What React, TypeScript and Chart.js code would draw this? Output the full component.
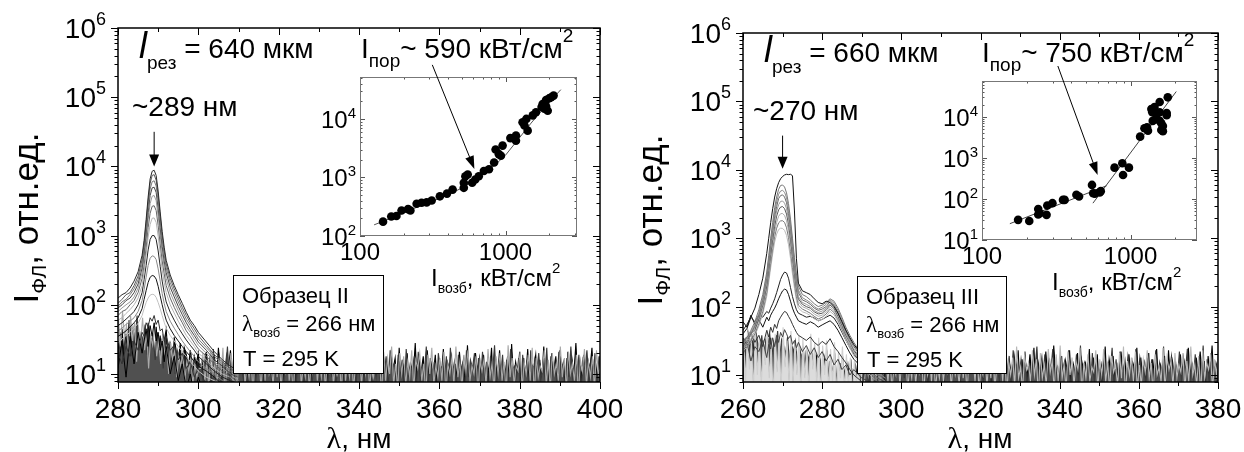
import React, { useEffect, useRef } from "react";
import { Chart, registerables } from "chart.js";

Chart.register(...registerables);

// ================= DATA: Образец II (left) =================
const wlPeakII = [280, 281, 282, 283, 284, 285, 286, 286.5, 287, 287.5, 288, 288.5, 289, 289.5, 290, 290.5, 291, 291.5, 292, 293, 294, 295, 296, 297, 298, 299, 300, 302, 304, 306, 308, 310];
const specII_1 = [125, 140, 150, 175, 220, 300, 520, 850, 1700, 3600, 6600, 8500, 8800, 7400, 4400, 2200, 1150, 680, 440, 270, 190, 140, 105, 78, 60, 50, 40, 29, 21, 16, 13, 11];
const specII_2 = [105, 120, 140, 150, 190, 260, 450, 760, 1500, 3100, 5700, 7400, 7600, 6300, 3800, 1900, 1000, 600, 390, 240, 170, 125, 92, 70, 55, 45, 36, 26, 19, 15, 12, 10];
const specII_3 = [95, 110, 120, 140, 170, 230, 390, 650, 1250, 2600, 4700, 6000, 6200, 5200, 3100, 1600, 850, 520, 340, 210, 150, 110, 82, 62, 50, 40, 32, 24, 18, 14, 11, 9];
const specII_4 = [90, 100, 115, 125, 150, 200, 340, 560, 1050, 2150, 3800, 4900, 5000, 4200, 2500, 1300, 700, 430, 290, 180, 130, 95, 72, 55, 44, 36, 29, 22, 16, 13, 10, 9];
const specII_5 = [80, 90, 100, 110, 130, 175, 290, 470, 870, 1700, 2900, 3700, 3800, 3200, 1900, 1000, 560, 350, 240, 150, 110, 82, 62, 48, 40, 32, 26, 20, 15, 12, 10, 8];
const specII_6 = [70, 80, 85, 100, 115, 150, 240, 380, 680, 1300, 2100, 2650, 2700, 2300, 1400, 760, 430, 280, 190, 125, 92, 70, 55, 42, 35, 28, 23, 18, 14, 11, 9, 8];
const specII_7 = [60, 65, 75, 85, 100, 125, 190, 300, 520, 950, 1450, 1780, 1800, 1550, 980, 550, 320, 210, 150, 100, 76, 58, 46, 36, 30, 25, 20, 16, 12, 10, 9, 7];
const specII_8 = [50, 55, 62, 70, 80, 100, 150, 230, 370, 620, 880, 1000, 1000, 880, 600, 360, 220, 150, 110, 78, 60, 47, 38, 31, 26, 22, 18, 14, 11, 9, 8, 7];
const specII_9 = [42, 46, 52, 58, 65, 80, 115, 165, 250, 370, 470, 510, 500, 450, 330, 220, 145, 105, 80, 58, 46, 37, 30, 25, 21, 18, 15, 12, 10, 8, 7, 6];
const specII_10 = [35, 38, 42, 48, 55, 65, 88, 120, 160, 210, 250, 265, 260, 235, 185, 135, 100, 76, 60, 45, 36, 30, 25, 21, 18, 15, 13, 11, 9, 7, 6, 6];
const specII_11 = [28, 32, 36, 40, 46, 54, 70, 88, 108, 125, 138, 142, 140, 128, 108, 88, 70, 56, 46, 36, 30, 25, 21, 18, 15, 13, 11, 9, 8, 7, 6, 5];
const specII_12 = [20, 14, 25, 18, 30, 22, 40, 35, 55, 48, 65, 58, 70, 52, 60, 42, 45, 30, 35, 22, 26, 16, 20, 12, 15, 9, 12, 7, 9, 5, 7, 4];
const specII_13 = [12, 30, 9, 35, 14, 40, 20, 30, 45, 25, 50, 35, 55, 30, 40, 22, 30, 15, 25, 10, 18, 8, 14, 6, 10, 5, 9, 4, 7, 5, 6, 4];

const noiseII_step = 0.5;
const noiseII_startA = 280;
const noiseII_startB = 280.25;
const noiseII_startC = 280.125;
const noiseII_a = [30, 12, 45, 18, 38, 9, 50, 22, 35, 14, 42, 10, 28, 40, 16, 55, 25, 33, 11, 48, 20, 36, 13, 30, 44, 17, 26, 9, 34, 21, 15, 28, 8, 24, 19, 12, 22, 7, 18, 14, 20,
  9, 17, 6, 21, 11, 15, 5, 19, 8, 24, 10, 14, 6, 18, 12, 22, 7, 13, 9, 20,
  5, 16, 11, 25, 8, 14, 6, 19, 10, 17, 5, 23, 9, 13, 7, 18, 12, 26, 6, 15,
  10, 20, 5, 14, 9, 22, 7, 16, 11, 19, 6, 13, 8, 24, 10, 15, 5, 18, 12, 21,
  7, 14, 9, 27, 6, 17, 11, 13, 5, 20, 8, 16, 10, 23, 6, 12, 9, 19, 7, 15,
  11, 22, 6, 18, 8, 14, 5, 25, 10, 16, 7, 21, 9, 13, 6, 19, 12, 17, 5, 24,
  8, 15, 10, 20, 6, 13, 9, 28, 7, 16, 11, 18, 5, 22, 8, 14, 10, 19, 6, 17,
  9, 23, 7, 15, 12, 18, 5, 14, 8, 21, 10, 16, 6, 26, 9, 13, 7, 20, 11, 17,
  6, 19, 8, 14, 10, 24, 5, 16, 9, 22, 7, 13, 11, 18, 6, 27, 8, 15, 10, 21,
  5, 17, 9, 23, 7, 14, 12, 19, 6, 16, 8, 25, 10, 13, 5, 20, 9, 18, 7, 22,
  11, 15, 6, 21, 8, 17, 10, 28, 7, 14, 9, 19, 5, 16, 12, 24, 6, 13, 8, 18];
const noiseII_b = [20, 40, 15, 32, 24, 60, 18, 45, 28, 70, 22, 38, 30, 52, 19, 44, 26, 35, 16, 40, 23, 30, 12, 34, 19, 27, 14, 25, 10, 22, 17, 13, 20, 9, 16, 11, 18, 8, 15, 10, 13,
  14, 7, 20, 10, 16, 6, 23, 9, 13, 18, 5, 15, 11, 25, 8, 17, 6, 14, 10, 21,
  13, 8, 19, 6, 24, 11, 15, 7, 18, 9, 22, 5, 14, 12, 20, 7, 16, 10, 27, 8,
  15, 6, 21, 11, 14, 8, 19, 5, 17, 12, 23, 7, 13, 9, 20, 6, 16, 11, 18, 8,
  22, 10, 14, 6, 18, 9, 25, 7, 13, 11, 16, 5, 21, 8, 15, 12, 19, 6, 24, 9,
  14, 7, 17, 11, 20, 5, 13, 9, 26, 8, 15, 10, 18, 6, 22, 12, 14, 7, 19, 10,
  16, 5, 23, 9, 14, 11, 18, 6, 21, 8, 13, 10, 25, 7, 17, 9, 15, 5, 20, 12,
  13, 8, 18, 6, 24, 10, 15, 7, 19, 11, 14, 5, 22, 9, 16, 12, 20, 6, 17, 8,
  21, 9, 15, 5, 18, 11, 26, 7, 14, 10, 19, 6, 16, 8, 23, 12, 13, 9, 17, 5,
  19, 10, 14, 7, 22, 6, 16, 11, 20, 8, 13, 9, 24, 5, 18, 10, 15, 7, 21, 11,
  14, 6, 17, 9, 25, 8, 13, 10, 19, 5, 16, 12, 22, 7, 15, 9, 20, 6, 18, 10];
const noiseII_c = [60, 25, 80, 35, 50, 20, 70, 30, 55, 15, 45, 28, 65, 22, 40, 12, 35, 26, 48, 18, 30, 14, 38, 20, 25, 10, 28, 16, 22, 9, 18, 13, 20, 8, 15, 11, 17, 7, 14, 9, 12,
  12, 19, 8, 15, 6, 22, 10, 14, 7, 17, 9, 24, 5, 13, 11, 20, 8, 16, 6, 18,
  10, 23, 7, 14, 9, 17, 5, 20, 12, 15, 6, 19, 8, 26, 10, 13, 7, 21, 9, 16,
  6, 18, 11, 22, 8, 14, 5, 17, 10, 25, 7, 13, 9, 19, 6, 16, 12, 21, 8, 15,
  9, 20, 6, 16, 11, 23, 7, 14, 10, 18, 5, 27, 8, 15, 9, 21, 6, 13, 11, 17,
  7, 16, 10, 24, 6, 13, 9, 19, 11, 15, 5, 21, 8, 17, 10, 25, 7, 14, 6, 20,
  10, 18, 7, 15, 9, 22, 6, 16, 12, 20, 8, 14, 5, 19, 10, 24, 7, 13, 9, 17,
  8, 21, 5, 14, 10, 17, 7, 25, 9, 15, 6, 19, 11, 22, 8, 13, 10, 18, 5, 16,
  11, 16, 7, 23, 9, 14, 6, 18, 10, 20, 8, 15, 5, 26, 9, 17, 7, 13, 11, 21,
  6, 15, 10, 19, 8, 24, 5, 17, 9, 13, 11, 22, 7, 16, 6, 20, 10, 14, 8, 25,
  9, 17, 6, 21, 10, 14, 8, 19, 5, 16, 11, 23, 7, 15, 9, 18, 6, 22, 10, 13];

// inset II: I_возб (кВт/см²) vs I (отн.ед.)
const excII = [144, 164, 178, 193, 214, 222, 245, 265, 287, 311, 354, 396, 433, 517, 517, 530, 550, 590, 620, 655, 710, 770, 835, 855, 900, 955, 930, 1080, 1180, 1180, 1310, 1350, 1420, 1390, 1540, 1620, 1770, 1800, 1850, 1900, 2000, 2060, 1900, 2140, 1950];
const lumII = [176, 215, 220, 273, 288, 273, 355, 370, 375, 405, 476, 530, 620, 810, 665, 1050, 1125, 810, 925, 1050, 1290, 1380, 1800, 3000, 2500, 3500, 2350, 4700, 4250, 5200, 8750, 7700, 6300, 10000, 11500, 13000, 16000, 18000, 15000, 21000, 22500, 23500, 16500, 25000, 13800];
const fitII_exc = [125, 170, 230, 300, 400, 500, 600, 700, 850, 1000, 1250, 1500, 1800, 2100, 2400];
const fitII_lum = [155, 210, 290, 375, 500, 660, 860, 1120, 1650, 2400, 4800, 8500, 14500, 22000, 31600];

// ================= DATA: Образец III (right) =================
const wlPeakIII = [260, 261, 262, 263, 264, 265, 266, 266.5, 267, 267.5, 268, 268.5, 269, 269.5, 270, 270.5, 271, 271.5, 272, 272.5, 273, 273.5, 274, 275, 276, 277, 278, 279, 280, 281, 282, 283, 284, 285, 286, 287, 288, 290, 292, 294, 296];
const specIII_1 = [40, 48, 70, 95, 150, 260, 600, 1000, 1700, 2700, 4000, 5300, 6500, 7400, 8000, 8400, 8600, 8500, 8600, 8200, 2500, 500, 220, 170, 160, 150, 130, 115, 110, 120, 115, 100, 80, 60, 45, 35, 28, 20, 15, 12, 10];
const specIII_2 = [30, 35, 45, 60, 90, 150, 320, 560, 1000, 1700, 2800, 4000, 5200, 5900, 6000, 5600, 4600, 3200, 1900, 1000, 520, 300, 200, 150, 140, 125, 110, 100, 105, 115, 130, 120, 95, 70, 50, 38, 30, 20, 15, 12, 10];
const specIII_3 = [28, 33, 42, 55, 80, 135, 290, 500, 880, 1500, 2400, 3400, 4400, 4900, 5000, 4700, 3900, 2700, 1600, 870, 450, 260, 175, 135, 125, 115, 100, 92, 98, 108, 125, 112, 88, 65, 46, 35, 27, 19, 14, 11, 9];
const specIII_4 = [32, 36, 40, 52, 75, 125, 260, 440, 780, 1300, 2100, 2900, 3800, 4200, 4300, 4000, 3300, 2300, 1400, 760, 400, 235, 160, 125, 118, 108, 95, 88, 92, 100, 118, 105, 82, 60, 43, 33, 26, 18, 13, 10, 9];
const specIII_5 = [25, 30, 38, 50, 70, 115, 230, 390, 680, 1120, 1800, 2500, 3100, 3450, 3500, 3250, 2700, 1900, 1150, 640, 340, 200, 140, 115, 108, 100, 88, 82, 86, 95, 110, 98, 76, 56, 40, 31, 24, 17, 12, 10, 8];
const specIII_6 = [34, 30, 40, 46, 66, 105, 200, 340, 580, 950, 1500, 2100, 2600, 2850, 2900, 2700, 2250, 1600, 970, 540, 300, 180, 130, 108, 100, 95, 84, 78, 80, 90, 105, 94, 72, 53, 38, 30, 23, 16, 12, 9, 8];
const specIII_7 = [24, 28, 34, 44, 62, 95, 180, 300, 500, 820, 1250, 1700, 2100, 2280, 2300, 2150, 1800, 1300, 800, 450, 260, 160, 118, 100, 94, 88, 78, 72, 75, 84, 98, 88, 68, 50, 36, 28, 22, 15, 11, 9, 7];
const specIII_8 = [27, 25, 32, 40, 56, 85, 160, 260, 430, 700, 1050, 1400, 1680, 1790, 1800, 1700, 1420, 1020, 640, 370, 220, 140, 105, 92, 86, 80, 72, 66, 70, 78, 92, 82, 64, 47, 34, 27, 21, 15, 11, 8, 7];
const specIII_9 = [22, 26, 30, 38, 52, 78, 140, 225, 370, 590, 880, 1150, 1340, 1400, 1390, 1300, 1100, 800, 510, 300, 185, 122, 95, 84, 80, 74, 66, 62, 65, 72, 85, 76, 60, 44, 32, 25, 19, 14, 10, 8, 7];
const specIII_10 = [45, 55, 70, 60, 75, 70, 85, 80, 95, 110, 130, 160, 200, 250, 290, 320, 310, 260, 190, 140, 110, 90, 80, 75, 70, 72, 68, 62, 65, 70, 75, 68, 55, 42, 32, 25, 20, 15, 11, 9, 7];
const specIII_11 = [60, 50, 75, 55, 65, 50, 70, 62, 75, 85, 95, 110, 130, 150, 170, 180, 175, 150, 120, 95, 80, 70, 62, 58, 55, 60, 56, 50, 54, 58, 62, 55, 45, 35, 27, 21, 17, 13, 10, 8, 6];
const specIII_12 = [35, 28, 42, 30, 38, 26, 45, 36, 50, 42, 55, 48, 62, 70, 78, 85, 82, 72, 64, 55, 48, 42, 38, 35, 32, 36, 30, 27, 31, 28, 34, 26, 22, 18, 15, 12, 10, 8, 7, 6, 5];
const specIII_13 = [20, 30, 16, 26, 22, 32, 18, 28, 24, 35, 26, 38, 30, 42, 36, 46, 40, 34, 38, 28, 32, 25, 30, 22, 27, 20, 25, 18, 22, 16, 20, 14, 17, 12, 14, 10, 12, 9, 8, 7, 6];

const noiseIII_step = 0.5;
const noiseIII_startA = 260;
const noiseIII_startB = 260.25;
const noiseIII_startC1 = 260.125;
const noiseIII_startC2 = 290.625;
const noiseIII_a = [18, 30, 12, 26, 16, 34, 10, 22, 28, 14, 30, 12, 24, 18, 35, 15, 26, 10, 22, 17, 28, 13, 20, 9, 24, 16, 11, 22, 8, 19, 14, 10, 23, 13, 7, 18, 11, 20, 9, 15, 6, 18, 12, 9, 16, 6, 13, 10, 8, 15, 5, 12, 9, 14, 7, 11, 5, 13, 8, 10, 6,
  16, 7, 21, 10, 14, 5, 19, 9, 24, 6, 15, 11, 18, 8, 22, 6, 13, 10, 26, 7,
  17, 9, 14, 5, 20, 11, 16, 7, 23, 8, 13, 10, 19, 6, 25, 9, 15, 12, 18, 5,
  21, 8, 14, 10, 17, 6, 28, 9, 15, 7, 20, 11, 13, 5, 24, 8, 16, 10, 19, 6,
  15, 9, 22, 7, 14, 12, 18, 5, 26, 8, 16, 10, 21, 6, 13, 9, 19, 11, 23, 7,
  17, 6, 14, 10, 20, 8, 25, 5, 16, 11, 18, 7, 22, 9, 15, 6, 27, 10, 13, 8,
  19, 5, 16, 11, 23, 7, 14, 9, 21, 6, 17, 12, 15, 8, 24, 5, 18, 10, 20, 7,
  14, 9, 26, 6, 17, 11, 19, 8, 13, 5, 22, 10, 16, 7, 20, 9, 15, 12, 25, 6,
  18, 8, 15, 10, 21, 5, 17, 9, 24, 7, 14, 11, 19, 6, 23, 8, 16, 10, 13, 5,
  20, 9, 15, 7, 25, 10, 14, 6, 18, 11, 22, 8, 16, 5, 19, 9, 27, 7, 15, 12];
const noiseIII_b = [30, 20, 42, 26, 35, 18, 45, 28, 22, 38, 16, 32, 25, 40, 19, 30, 23, 44, 17, 33, 27, 20, 36, 15, 28, 22, 31, 13, 26, 18, 24, 11, 21, 16, 27, 10, 19, 14, 23, 9, 17, 12, 20, 8, 15, 11, 18, 7, 13, 10, 16, 6, 14, 9, 17, 7, 12, 10, 15, 6, 11,
  8, 19, 6, 14, 11, 23, 7, 16, 9, 20, 5, 15, 12, 25, 8, 13, 10, 18, 6, 22,
  9, 16, 7, 21, 11, 14, 5, 19, 10, 26, 8, 15, 6, 18, 12, 23, 7, 13, 9, 20,
  6, 17, 10, 24, 8, 14, 11, 19, 5, 16, 9, 22, 7, 15, 12, 20, 6, 27, 10, 14,
  7, 18, 9, 13, 5, 21, 11, 16, 8, 25, 6, 15, 10, 19, 7, 23, 12, 14, 9, 17,
  10, 22, 6, 15, 8, 19, 12, 26, 7, 14, 9, 20, 5, 17, 11, 24, 8, 13, 6, 18,
  12, 16, 8, 23, 6, 14, 10, 20, 7, 27, 9, 15, 11, 18, 5, 21, 8, 16, 10, 13,
  6, 20, 9, 15, 11, 25, 7, 17, 5, 22, 10, 14, 8, 19, 12, 16, 6, 24, 9, 18,
  11, 14, 7, 21, 9, 17, 5, 23, 10, 15, 8, 26, 6, 13, 12, 19, 7, 16, 9, 22,
  8, 18, 11, 24, 6, 15, 9, 20, 7, 13, 10, 27, 5, 17, 8, 21, 12, 14, 6, 19];
// light-grey spectra under the peak (260–290 нм)
const noiseIII_c1 = [35, 8, 42, 12, 30, 6, 48, 10, 38, 7, 33, 14, 45, 9, 28, 5, 40, 11, 36, 6, 50, 13, 32, 8, 44, 7, 29, 10, 38, 5, 34, 9, 26, 6, 40, 12, 30, 7, 35, 5, 27, 10, 32, 6, 24, 8, 30, 5, 22, 9, 26, 6, 20, 7, 18, 5, 16, 8, 14, 6, 12];
// light-grey noise (290.5–380 нм)
const noiseIII_c2 = [7, 17, 10, 22, 6, 14, 9, 19, 5, 24, 11, 15, 8, 20, 6, 13, 10, 26, 7, 16,
  12, 19, 6, 14, 9, 23, 7, 17, 11, 21, 5, 15, 10, 18, 8, 25, 6, 13, 9, 20,
  8, 15, 11, 22, 6, 18, 10, 14, 7, 27, 9, 16, 5, 21, 12, 17, 8, 24, 6, 13,
  10, 20, 7, 16, 9, 25, 6, 14, 11, 19, 8, 22, 5, 15, 10, 18, 7, 26, 9, 13,
  6, 19, 12, 15, 8, 23, 10, 17, 5, 21, 9, 14, 7, 24, 11, 16, 6, 20, 8, 27,
  9, 14, 6, 22, 10, 18, 7, 16, 12, 25, 5, 15, 9, 20, 8, 13, 11, 23, 6, 17,
  10, 24, 8, 15, 6, 19, 11, 14, 7, 21, 9, 26, 5, 16, 10, 18, 8, 22, 6, 14,
  7, 17, 11, 23, 9, 15, 5, 20, 10, 13, 8, 25, 6, 18, 12, 16, 7, 21, 9, 14,
  11, 21, 6, 16, 8, 26, 10, 14, 7, 19, 5, 23, 9, 15, 12, 20, 6, 17, 10, 24];

// inset III
const excIII = [175, 208, 239, 245, 239, 272, 275, 298, 351, 360, 432, 450, 550, 560, 575, 620, 630, 780, 880, 890, 975, 1160, 1240, 1290, 1310, 1380, 1400, 1410, 1450, 1490, 1570, 1570, 1570, 1610, 1650, 1650, 1750, 1750, 1780, 1610];
const lumIII = [31, 29, 57, 45, 42, 41, 69, 79, 95, 95, 127, 115, 220, 138, 135, 145, 155, 580, 740, 385, 580, 3300, 5300, 5600, 4600, 15500, 13000, 8000, 17500, 9500, 23000, 13000, 8000, 7000, 6000, 4500, 12500, 11000, 30000, 4800];
const fitIII_low_exc = [154, 690];
const fitIII_low_lum = [25, 210];
const fitIII_high_exc = [558, 2030];
const fitIII_high_lum = [79, 41500];

// tick labels
const xLabelsII = [280, 300, 320, 340, 360, 380, 400];
const xLabelsIII = [260, 280, 300, 320, 340, 360, 380];
const yExpMain = [1, 2, 3, 4, 5, 6];
const insetXLabels = [100, 1000];
const insetYExpII = [2, 3, 4];
const insetYExpIII = [1, 2, 3, 4];

// ================= drawing helpers =================
const SANS = "'Liberation Sans', Arial, Helvetica, sans-serif";
const SERIF = "'Liberation Serif', 'Times New Roman', serif";

type Run = { t: string; size: number; dy?: number; italic?: boolean; serif?: boolean };

function fontOf(r: Run) {
  return `${r.italic ? "italic " : ""}${r.size}px ${r.serif ? SERIF : SANS}`;
}

function drawRuns(ctx: CanvasRenderingContext2D, x: number, y: number, runs: Run[], align: "left" | "center" | "right" = "left") {
  ctx.save();
  ctx.textBaseline = "alphabetic";
  ctx.textAlign = "left";
  ctx.fillStyle = "#000";
  const widths = runs.map((r) => {
    ctx.font = fontOf(r);
    return ctx.measureText(r.t).width;
  });
  const total = widths.reduce((a, b) => a + b, 0);
  let cx = align === "left" ? x : align === "center" ? x - total / 2 : x - total;
  runs.forEach((r, i) => {
    ctx.font = fontOf(r);
    ctx.fillText(r.t, cx, y + (r.dy || 0));
    cx += widths[i];
  });
  ctx.restore();
}

function drawArrow(ctx: CanvasRenderingContext2D, x1: number, y1: number, x2: number, y2: number, head = 12, half = 4.5) {
  const a = Math.atan2(y2 - y1, x2 - x1);
  const c = Math.cos(a), s = Math.sin(a);
  ctx.save();
  ctx.strokeStyle = "#000";
  ctx.fillStyle = "#000";
  ctx.lineWidth = 1;
  ctx.beginPath();
  ctx.moveTo(x1, y1);
  ctx.lineTo(x2 - head * c * 0.7, y2 - head * s * 0.7);
  ctx.stroke();
  ctx.beginPath();
  ctx.moveTo(x2, y2);
  ctx.lineTo(x2 - head * c + half * s, y2 - head * s - half * c);
  ctx.lineTo(x2 - head * c - half * s, y2 - head * s + half * c);
  ctx.closePath();
  ctx.fill();
  ctx.restore();
}

type Box = { left: number; top: number; w: number; h: number };
type Area = { l: number; t: number; r: number; b: number };

function lineDataset(xs: number[], ys: number[], color: string, width = 1) {
  return {
    data: xs.map((x, i) => ({ x, y: ys[i] })),
    showLine: true,
    borderColor: color,
    borderWidth: width,
    pointRadius: 0,
    tension: 0,
    fill: false,
  };
}

function gridDataset(start: number, step: number, ys: number[], color: string, fillColor?: string) {
  return {
    data: ys.map((y, i) => ({ x: start + i * step, y })),
    showLine: true,
    borderColor: color,
    borderWidth: 1.1,
    pointRadius: 0,
    tension: 0,
    fill: fillColor ? "start" : false,
    backgroundColor: fillColor || "transparent",
  };
}

function makeChart(canvas: HTMLCanvasElement, box: Box, area: Area, datasets: any[], xScale: any, yScale: any, plugin: any) {
  const yWidth = area.l - box.left;
  const xHeight = box.top + box.h - area.b;
  return new Chart(canvas, {
    type: "scatter",
    data: { datasets },
    options: {
      responsive: false,
      animation: false,
      devicePixelRatio: 1,
      events: [],
      layout: { padding: { left: 0, top: area.t - box.top, right: box.left + box.w - area.r, bottom: 0 } },
      plugins: { legend: { display: false }, tooltip: { enabled: false }, title: { display: false } },
      scales: {
        x: {
          ...xScale,
          grid: { display: false },
          border: { display: false },
          ticks: { display: false },
          afterFit: (s: any) => { s.height = xHeight; },
        },
        y: {
          ...yScale,
          grid: { display: false },
          border: { display: false },
          ticks: { display: false },
          afterFit: (s: any) => { s.width = yWidth; },
        },
      },
    } as any,
    plugins: [plugin],
  });
}

// ================= main plot decoration =================
type MainSpec = {
  box: Box;
  xMinor: number;
  xLabels: number[];
  arrowX: number;
  arrowFrom: number;
  arrowTo: number;
  annotate: (ctx: CanvasRenderingContext2D) => void;
};

function mainPlugin(spec: MainSpec) {
  return {
    id: "mainDeco",
    afterDraw(chart: any) {
      const ctx: CanvasRenderingContext2D = chart.ctx;
      const xs = chart.scales.x, ys = chart.scales.y;
      const { left, right, top, bottom } = chart.chartArea;
      ctx.save();
      ctx.strokeStyle = "#000";
      ctx.lineWidth = 1;
      ctx.beginPath();
      for (let v = xs.min; v <= xs.max + 1e-6; v += spec.xMinor) {
        const p = Math.round(xs.getPixelForValue(v)) + 0.5;
        const len = spec.xLabels.includes(Math.round(v)) ? 7 : 4;
        ctx.moveTo(p, bottom); ctx.lineTo(p, bottom + len);
        ctx.moveTo(p, top); ctx.lineTo(p, top + len);
      }
      for (let e = 0; e <= 6; e++) {
        for (let m = 1; m <= 9; m++) {
          const v = m * Math.pow(10, e);
          if (v < ys.min || v > ys.max * 1.0001) continue;
          const p = Math.round(ys.getPixelForValue(v)) + 0.5;
          const len = m === 1 ? 7 : 3.5;
          ctx.moveTo(left - len, p); ctx.lineTo(left, p);
          ctx.moveTo(right - len, p); ctx.lineTo(right, p);
        }
      }
      ctx.stroke();
      ctx.lineWidth = 1.5;
      ctx.strokeRect(left, top, right - left, bottom - top);

      spec.xLabels.forEach((v) => {
        drawRuns(ctx, xs.getPixelForValue(v), bottom + 36, [{ t: String(v), size: 28 }], "center");
      });
      yExpMain.forEach((e) => {
        const p = ys.getPixelForValue(Math.pow(10, e));
        drawRuns(ctx, left - 12, p + 10, [{ t: "10", size: 28 }, { t: String(e), size: 18, dy: -13 }], "right");
      });

      drawArrow(ctx, xs.getPixelForValue(spec.arrowX), ys.getPixelForValue(spec.arrowFrom),
        xs.getPixelForValue(spec.arrowX), ys.getPixelForValue(spec.arrowTo), 12, 5);

      ctx.translate(-spec.box.left, -spec.box.top);
      spec.annotate(ctx);
      ctx.restore();
    },
  };
}

function drawYTitle(ctx: CanvasRenderingContext2D, bx: number, cy: number) {
  ctx.save();
  ctx.translate(bx, cy);
  ctx.rotate(-Math.PI / 2);
  drawRuns(ctx, 0, 0, [
    { t: "I", size: 35 },
    { t: "ФЛ", size: 21, dy: 8 },
    { t: ", отн.ед.", size: 35 },
  ], "center");
  ctx.restore();
}

function drawSampleBox(ctx: CanvasRenderingContext2D, x: number, y: number, w: number, h: number, name: string) {
  ctx.save();
  ctx.fillStyle = "#fff";
  ctx.fillRect(x, y, w, h);
  ctx.strokeStyle = "#000";
  ctx.lineWidth = 1;
  ctx.strokeRect(x + 0.5, y + 0.5, w, h);
  ctx.restore();
  drawRuns(ctx, x + 9, y + 28, [{ t: name, size: 22 }]);
  drawRuns(ctx, x + 9, y + 56, [{ t: "λ", size: 23, serif: true }, { t: "возб", size: 13, dy: 6 }, { t: " = 266 нм", size: 22 }]);
  drawRuns(ctx, x + 10, y + 91, [{ t: "T = 295 K", size: 22 }]);
}

function annotateII(ctx: CanvasRenderingContext2D) {
  drawRuns(ctx, 139, 58, [{ t: "l", size: 36, italic: true }, { t: "рез", size: 19, dy: 11 }, { t: " = 640 мкм", size: 28 }]);
  drawRuns(ctx, 361, 58, [{ t: "I", size: 28 }, { t: "пор", size: 19, dy: 9 }, { t: "~ 590 кВт/см", size: 28 }, { t: "2", size: 19, dy: -16 }]);
  drawRuns(ctx, 132, 116, [{ t: "~289 нм", size: 28 }]);
  drawSampleBox(ctx, 233, 275, 150, 98, "Образец II");
  drawYTitle(ctx, 38, 218);
  drawRuns(ctx, 359, 448, [{ t: "λ", size: 30, serif: true }, { t: ", нм", size: 28 }], "center");
}

function annotateIII(ctx: CanvasRenderingContext2D) {
  drawRuns(ctx, 764, 62, [{ t: "l", size: 36, italic: true }, { t: "рез", size: 19, dy: 11 }, { t: " = 660 мкм", size: 28 }]);
  drawRuns(ctx, 982, 62, [{ t: "I", size: 28 }, { t: "пор", size: 19, dy: 9 }, { t: "~ 750 кВт/см", size: 28 }, { t: "2", size: 19, dy: -16 }]);
  drawRuns(ctx, 753, 120, [{ t: "~270 нм", size: 28 }]);
  drawSampleBox(ctx, 857, 276, 149, 97, "Образец III");
  drawYTitle(ctx, 662, 220);
  drawRuns(ctx, 980, 448, [{ t: "λ", size: 30, serif: true }, { t: ", нм", size: 28 }], "center");
}

// ================= inset decoration =================
type InsetSpec = {
  box: Box;
  yExps: number[];
  arrow: [number, number, number, number];
  titleX: number;
  titleY: number;
};

function insetPlugin(spec: InsetSpec) {
  return {
    id: "insetDeco",
    beforeDatasetsDraw(chart: any) {
      const ctx = chart.ctx;
      const { left, right, top, bottom } = chart.chartArea;
      ctx.save();
      ctx.fillStyle = "#fff";
      ctx.fillRect(left, top, right - left, bottom - top);
      ctx.restore();
    },
    afterDraw(chart: any) {
      const ctx: CanvasRenderingContext2D = chart.ctx;
      const xs = chart.scales.x, ys = chart.scales.y;
      const { left, right, top, bottom } = chart.chartArea;
      ctx.save();
      ctx.strokeStyle = "#555";
      ctx.lineWidth = 1;
      ctx.beginPath();
      for (let e = 1; e <= 4; e++) {
        for (let m = 1; m <= 9; m++) {
          const v = m * Math.pow(10, e);
          if (v >= xs.min && v <= xs.max) {
            const p = Math.round(xs.getPixelForValue(v)) + 0.5;
            const len = m === 1 ? 5 : 2.5;
            ctx.moveTo(p, bottom); ctx.lineTo(p, bottom - len);
            ctx.moveTo(p, top); ctx.lineTo(p, top + len);
          }
          if (v >= ys.min && v <= ys.max) {
            const p = Math.round(ys.getPixelForValue(v)) + 0.5;
            const len = m === 1 ? 5 : 2.5;
            ctx.moveTo(left, p); ctx.lineTo(left + len, p);
            ctx.moveTo(right, p); ctx.lineTo(right - len, p);
          }
        }
      }
      ctx.stroke();
      ctx.strokeStyle = "#777";
      ctx.strokeRect(left + 0.5, top + 0.5, right - left - 1, bottom - top - 1);

      insetXLabels.forEach((v) => {
        drawRuns(ctx, xs.getPixelForValue(v), bottom + 24, [{ t: String(v), size: 24 }], "center");
      });
      spec.yExps.forEach((e) => {
        const p = ys.getPixelForValue(Math.pow(10, e));
        drawRuns(ctx, left - 4, p + 9, [{ t: "10", size: 24 }, { t: String(e), size: 15, dy: -10 }], "right");
      });
      const [ax1, ay1, ax2, ay2] = spec.arrow;
      drawArrow(ctx, xs.getPixelForValue(ax1), ys.getPixelForValue(ay1), xs.getPixelForValue(ax2), ys.getPixelForValue(ay2), 13, 4.5);

      ctx.translate(-spec.box.left, -spec.box.top);
      drawRuns(ctx, spec.titleX, spec.titleY, [
        { t: "I", size: 24 },
        { t: "возб", size: 14, dy: 7 },
        { t: ", кВт/см", size: 24 },
        { t: "2", size: 15, dy: -13 },
      ]);
      ctx.restore();
    },
  };
}

// ================= layout =================
const boxMainII: Box = { left: 0, top: 0, w: 622, h: 452 };
const areaMainII: Area = { l: 118, t: 28, r: 600, b: 382 };
const boxMainIII: Box = { left: 622, top: 0, w: 622, h: 452 };
const areaMainIII: Area = { l: 743, t: 33, r: 1218, b: 382 };
const boxInsetII: Box = { left: 290, top: 20, w: 310, h: 290 };
const areaInsetII: Area = { l: 360, t: 77, r: 577, b: 236 };
const boxInsetIII: Box = { left: 912, top: 20, w: 310, h: 290 };
const areaInsetIII: Area = { l: 982, t: 81, r: 1197, b: 240 };

function rel(a: Area, b: Box): Area {
  return { l: a.l - b.left, t: a.t - b.top, r: a.r - b.left, b: a.b - b.top };
}
function relBox(b: Box): Box {
  return { left: 0, top: 0, w: b.w, h: b.h };
}

export default function App() {
  const c1 = useRef<HTMLCanvasElement>(null);
  const c2 = useRef<HTMLCanvasElement>(null);
  const c3 = useRef<HTMLCanvasElement>(null);
  const c4 = useRef<HTMLCanvasElement>(null);

  useEffect(() => {
    const charts: Chart[] = [];

    const peaksII: [number[], string][] = [
      [specII_1, "#2a2a2a"], [specII_2, "#5a5a5a"], [specII_3, "#7a7a7a"], [specII_4, "#444"],
      [specII_5, "#999"], [specII_6, "#666"], [specII_7, "#b5b5b5"], [specII_8, "#222"],
      [specII_9, "#888"], [specII_10, "#111"], [specII_11, "#c0c0c0"], [specII_12, "#333"], [specII_13, "#000"],
    ];
    const dsII = [
      ...peaksII.map(([d, c]) => lineDataset(wlPeakII, d, c)),
      gridDataset(noiseII_startC, noiseII_step, noiseII_c, "#a8a8a8"),
      gridDataset(noiseII_startB, noiseII_step, noiseII_b, "#3a3a3a", "#505050"),
      gridDataset(noiseII_startA, noiseII_step, noiseII_a, "#000", "#202020"),
    ];
    charts.push(makeChart(c1.current!, relBox(boxMainII), rel(areaMainII, boxMainII), dsII,
      { type: "linear", min: 280, max: 400 },
      { type: "logarithmic", min: 7.66, max: 1e6 },
      mainPlugin({ box: boxMainII, xMinor: 10, xLabels: xLabelsII, arrowX: 289, arrowFrom: 31600, arrowTo: 10000, annotate: annotateII })));

    const peaksIII: [number[], string][] = [
      [specIII_1, "#111"], [specIII_2, "#777"], [specIII_3, "#8a8a8a"], [specIII_4, "#666"],
      [specIII_5, "#9a9a9a"], [specIII_6, "#555"], [specIII_7, "#aaa"], [specIII_8, "#777"],
      [specIII_9, "#bbb"], [specIII_10, "#222"], [specIII_11, "#111"], [specIII_12, "#333"], [specIII_13, "#444"],
    ];
    const dsIII = [
      ...peaksIII.map(([d, c]) => lineDataset(wlPeakIII, d, c)),
      gridDataset(noiseIII_startC1, noiseIII_step, noiseIII_c1, "#cfcfcf", "#dcdcdc"),
      gridDataset(noiseIII_startC2, noiseIII_step, noiseIII_c2, "#b8b8b8"),
      gridDataset(noiseIII_startB, noiseIII_step, noiseIII_b, "#3a3a3a", "#505050"),
      gridDataset(noiseIII_startA, noiseIII_step, noiseIII_a, "#000", "#202020"),
    ];
    charts.push(makeChart(c2.current!, relBox(boxMainIII), rel(areaMainIII, boxMainIII), dsIII,
      { type: "linear", min: 260, max: 380 },
      { type: "logarithmic", min: 7.9, max: 1e6 },
      mainPlugin({ box: boxMainIII, xMinor: 10, xLabels: xLabelsIII, arrowX: 270, arrowFrom: 31600, arrowTo: 10400, annotate: annotateIII })));

    const dsInII = [
      { ...lineDataset(excII, lumII, "#000"), showLine: false, pointRadius: 4.3, backgroundColor: "#000", borderWidth: 0 },
      lineDataset(fitII_exc, fitII_lum, "#555"),
    ];
    charts.push(makeChart(c3.current!, relBox(boxInsetII), rel(areaInsetII, boxInsetII), dsInII,
      { type: "logarithmic", min: 100, max: 3100 },
      { type: "logarithmic", min: 100, max: 52000 },
      insetPlugin({ box: boxInsetII, yExps: insetYExpII, arrow: [314, 83800, 611, 1400], titleX: 431, titleY: 286 })));

    const dsInIII = [
      { ...lineDataset(excIII, lumIII, "#000"), showLine: false, pointRadius: 4.3, backgroundColor: "#000", borderWidth: 0 },
      lineDataset(fitIII_low_exc, fitIII_low_lum, "#444"),
      lineDataset(fitIII_high_exc, fitIII_high_lum, "#444"),
    ];
    charts.push(makeChart(c4.current!, relBox(boxInsetIII), rel(areaInsetIII, boxInsetIII), dsInIII,
      { type: "logarithmic", min: 100, max: 2800 },
      { type: "logarithmic", min: 10, max: 75000 },
      insetPlugin({ box: boxInsetIII, yExps: insetYExpIII, arrow: [324, 174000, 600, 385], titleX: 1052, titleY: 290 })));

    return () => charts.forEach((c) => c.destroy());
  }, []);

  const cs = (b: Box) => ({ position: "absolute" as const, left: b.left, top: b.top, width: b.w, height: b.h });
  return (
    <div style={{ position: "absolute", left: 0, top: 0, width: 1244, height: 452, background: "#fff", overflow: "hidden" }}>
      <canvas ref={c1} width={boxMainII.w} height={boxMainII.h} style={cs(boxMainII)} />
      <canvas ref={c2} width={boxMainIII.w} height={boxMainIII.h} style={cs(boxMainIII)} />
      <canvas ref={c3} width={boxInsetII.w} height={boxInsetII.h} style={cs(boxInsetII)} />
      <canvas ref={c4} width={boxInsetIII.w} height={boxInsetIII.h} style={cs(boxInsetIII)} />
    </div>
  );
}
